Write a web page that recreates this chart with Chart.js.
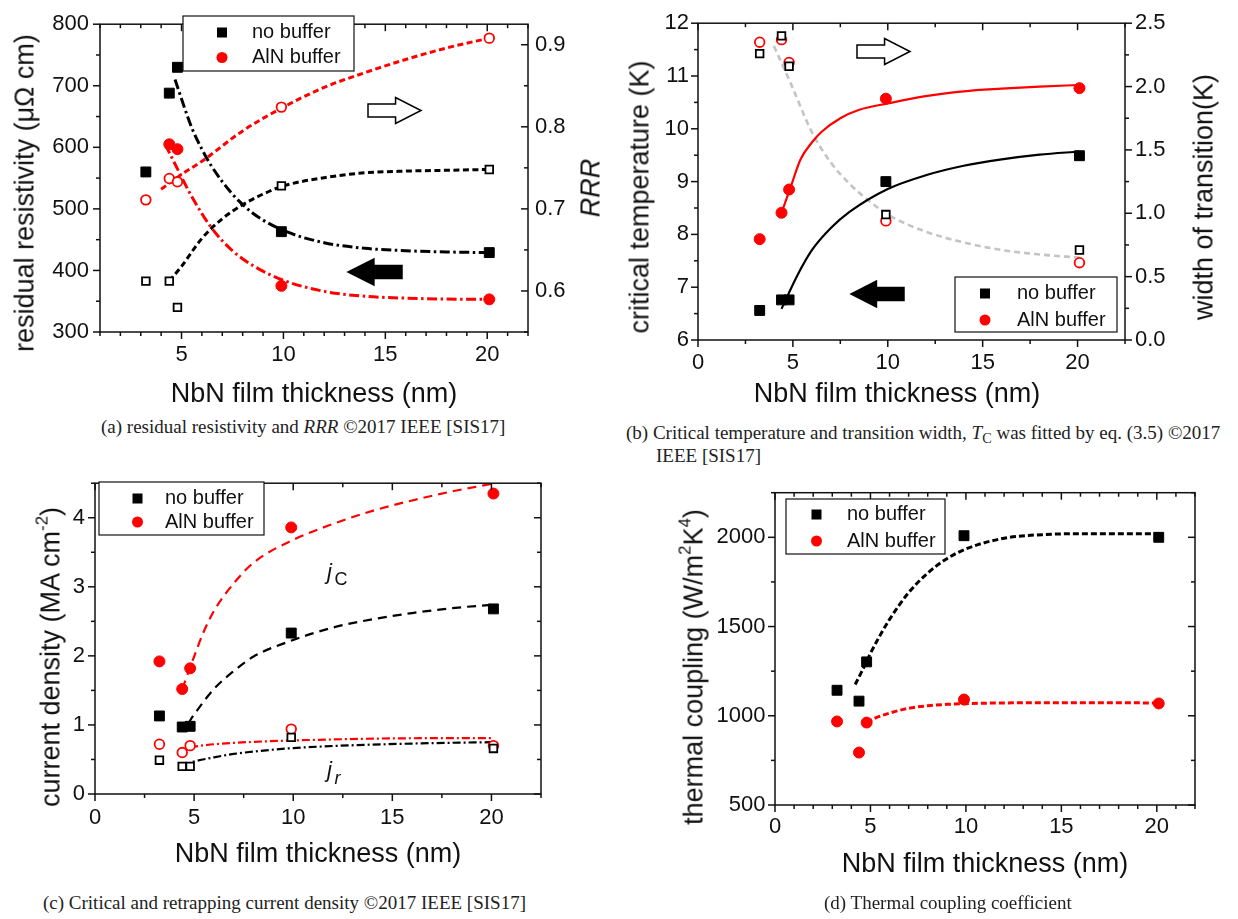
<!DOCTYPE html>
<html>
<head>
<meta charset="utf-8">
<script src="https://cdn.jsdelivr.net/npm/chart.js@4/dist/chart.umd.min.js"></script>
<style>
    body { margin: 0; background: #fff; }
    #page { position: relative; width: 1238px; height: 919px; overflow: hidden; background: #fff; }
    .panel { position: absolute; }
    .ttl {
        position: absolute; white-space: nowrap; color: #111;
        font: 27px 'Liberation Sans', Arial, sans-serif;
        transform: translate(-50%, -50%);
    }
    .ttl.v { transform: translate(-50%, -50%) rotate(-90deg); }
    .ttl sup { font-size: 62%; vertical-align: baseline; position: relative; top: -0.7em; }
    .cap {
        position: absolute; color: #222; white-space: nowrap;
        font: 19px 'Liberation Serif', 'Times New Roman', serif; line-height: 21px;
    }
    .cap sub { font-size: 75%; vertical-align: baseline; position: relative; top: 0.3em; }
</style>
</head>
<body>
<div id="page">
    <div class="panel" style="left:0;top:0"><canvas id="chart-a" width="610" height="380"></canvas></div>
    <div class="panel" style="left:600px;top:0"><canvas id="chart-b" width="638" height="380"></canvas></div>
    <div class="panel" style="left:0;top:460px"><canvas id="chart-c" width="600" height="380"></canvas></div>
    <div class="panel" style="left:640px;top:470px"><canvas id="chart-d" width="598" height="380"></canvas></div>

    <!-- axis titles -->
    <div class="ttl v" style="left:25px;top:193px">residual resistivity (μΩ cm)</div>
    <div class="ttl v" style="left:591px;top:188px"><i>RRR</i></div>
    <div class="ttl" style="left:314px;top:393px">NbN film thickness (nm)</div>

    <div class="ttl v" style="left:640px;top:197px">critical temperature (K)</div>
    <div class="ttl v" style="left:1204px;top:197px">width of transition(K)</div>
    <div class="ttl" style="left:897px;top:393px">NbN film thickness (nm)</div>

    <div class="ttl v" style="left:51px;top:657px">current density (MA cm<sup>-2</sup>)</div>
    <div class="ttl" style="left:318px;top:853px">NbN film thickness (nm)</div>

    <div class="ttl v" style="left:694px;top:667px">thermal coupling (W/m<sup>2</sup>K<sup>4</sup>)</div>
    <div class="ttl" style="left:985px;top:863px">NbN film thickness (nm)</div>

    <!-- sub-figure captions -->
    <div class="cap" style="left:101px;top:416px">(a) residual resistivity and <i>RRR</i> ©2017 IEEE [SIS17]</div>
    <div class="cap" style="left:626px;top:422px;padding-left:30px;text-indent:-30px">(b) Critical temperature and transition width, <i>T</i><sub>C</sub> was fitted by eq. (3.5) ©2017<br>IEEE [SIS17]</div>
    <div class="cap" style="left:43px;top:892px">(c) Critical and retrapping current density ©2017 IEEE [SIS17]</div>
    <div class="cap" style="left:824px;top:892px">(d) Thermal coupling coefficient</div>
</div>

<script>
// film thickness of every sample (nm)
const thickness = [3.25, 4.4, 4.8, 9.9, 20.1];

// tick labels
const thicknessTicks = [0, 5, 10, 15, 20];
const rhoTicks = [300, 400, 500, 600, 700, 800];
const rrrTicks = [0.6, 0.7, 0.8, 0.9];
const tcTicks = [6, 7, 8, 9, 10, 11, 12];
const widthTicks = [0, 0.5, 1, 1.5, 2, 2.5];
const jTicks = [0, 1, 2, 3, 4];
const gTicks = [500, 1000, 1500, 2000];

// (a) residual resistivity (µΩ cm) and residual resistance ratio
const rhoNoBuffer = [560, 688, 730, 463, 429];
const rhoAlN = [null, 605, 597, 375, 353];
const rrrNoBuffer = [0.612, 0.612, 0.580, 0.728, 0.748];
const rrrAlN = [0.711, 0.737, 0.733, 0.824, 0.908];
const rhoFitNoX = [4.68, 5.5, 6, 6.5, 7.5, 8.5, 10, 12, 14, 16, 18, 20.1];
const rhoFitNoY = [710, 632, 597, 568, 524, 493, 465, 445, 436, 432, 430, 429];
const rhoFitAlnX = [4.2, 4.8, 5.5, 6.5, 7.5, 8.5, 10, 12, 14, 16, 18, 20.1];
const rhoFitAlnY = [605, 565, 520, 468, 432, 408, 384, 366, 358, 355, 353.5, 353];
const rrrFitNoX = [4.4, 5, 6, 7, 8, 9, 10, 12, 14, 16, 18, 20.1];
const rrrFitNoY = [0.612, 0.630, 0.664, 0.688, 0.705, 0.718, 0.728, 0.738, 0.744, 0.746, 0.747, 0.748];
const rrrFitAlnX = [4, 5, 6, 8, 10, 12, 14, 16, 18, 20.1];
const rrrFitAlnY = [0.724, 0.742, 0.758, 0.795, 0.824, 0.848, 0.866, 0.882, 0.896, 0.908];

// (b) critical temperature (K) and transition width (K)
const tcNoBuffer = [6.56, 6.76, 6.76, 9.0, 9.49];
const tcAlN = [7.91, 8.41, 8.85, 10.57, 10.77];
const dtNoBuffer = [2.26, 2.40, 2.16, 0.99, 0.71];
const dtAlN = [2.35, 2.37, 2.19, 0.94, 0.61];
const tcFitNoX = [4.4, 4.8, 5.2, 6, 7, 8, 10, 12, 14, 16, 18, 20.1];
const tcFitNoY = [6.59, 6.9, 7.2, 7.7, 8.12, 8.43, 8.86, 9.12, 9.3, 9.42, 9.51, 9.57];
const tcFitAlnX = [4.4, 4.85, 5.4, 6, 6.5, 7.5, 8.5, 10, 12, 14, 16, 18, 20.1];
const tcFitAlnY = [8.41, 8.86, 9.42, 9.74, 9.94, 10.2, 10.36, 10.48, 10.62, 10.71, 10.76, 10.8, 10.83];
const dtFitX = [4, 4.9, 6, 7, 8, 9, 10, 12, 14, 16, 18, 20.1];
const dtFitY = [2.32, 2.02, 1.64, 1.40, 1.23, 1.10, 0.99, 0.855, 0.77, 0.71, 0.675, 0.65];

// (c) critical (jc) and retrapping (jr) current density (MA/cm²)
const jcNoBuffer = [1.13, 0.97, 0.98, 2.33, 2.68];
const jcAlN = [1.92, 1.52, 1.82, 3.86, 4.35];
const jrNoBuffer = [0.49, 0.40, 0.40, 0.82, 0.66];
const jrAlN = [0.72, 0.60, 0.70, 0.94, 0.70];
const jcFitNoX = [4.7, 5, 6, 7, 8, 10, 12, 14, 16, 18, 20];
const jcFitNoY = [1.02, 1.15, 1.52, 1.78, 1.99, 2.23, 2.41, 2.53, 2.62, 2.69, 2.74];
const jcFitAlnX = [4.4, 5, 5.5, 6, 7, 8, 10, 12, 14, 16, 18, 20];
const jcFitAlnY = [1.52, 1.99, 2.36, 2.65, 3.05, 3.35, 3.68, 3.91, 4.1, 4.25, 4.38, 4.49];
const jrFitNoX = [4.4, 5, 6, 7, 8, 10, 12, 14, 16, 18, 20];
const jrFitNoY = [0.42, 0.47, 0.53, 0.58, 0.615, 0.665, 0.695, 0.715, 0.73, 0.742, 0.75];
const jrFitAlnX = [4.8, 6, 8, 10, 12, 15, 20];
const jrFitAlnY = [0.68, 0.72, 0.755, 0.775, 0.79, 0.805, 0.81];

// (d) thermal coupling coefficient (W/m²K⁴)
const gNoBuffer = [1143, 1082, 1302, 2009, 2000];
const gAlN = [968, 794, 962, 1091, 1069];
const gFitNoX = [4.2, 4.6, 5, 5.5, 6, 7, 8, 9, 10, 12, 14, 16, 18, 20.1];
const gFitNoY = [1175, 1260, 1350, 1450, 1540, 1690, 1800, 1880, 1935, 1995, 2015, 2020, 2020, 2020];
const gFitAlnX = [4.8, 5.2, 6, 7, 8, 9, 10, 12, 16, 20.1];
const gFitAlnY = [962, 985, 1015, 1042, 1056, 1064, 1068, 1072, 1073, 1072];

const INK = '#111';
const RED = '#ff0000';
const SANS = "'Liberation Sans', Arial, sans-serif";

Chart.defaults.font.family = SANS;
Chart.defaults.color = INK;

function pts(xs, ys) {
    return xs.map((x, i) => ({ x: x, y: ys[i] })).filter(p => p.y !== null);
}

// measured points: filled / open squares and circles
function marks(ys, kind, axis) {
    const red = kind.indexOf('circle') >= 0;
    const open = kind.indexOf('open') === 0;
    return {
        data: pts(thickness, ys),
        yAxisID: axis || 'y',
        showLine: false,
        order: 0,
        pointStyle: red ? 'circle' : 'rect',
        pointRadius: red ? (open ? 4.8 : 5.5) : (open ? 5.4 : 7),
        pointHoverRadius: red ? 5.5 : 7,
        pointBackgroundColor: open ? '#fff' : (red ? RED : '#000'),
        pointBorderColor: red ? RED : '#000',
        pointBorderWidth: open ? 1.8 : 1
    };
}

// fitted curves
function fit(xs, ys, color, dash, width, axis) {
    return {
        data: pts(xs, ys),
        yAxisID: axis || 'y',
        showLine: true,
        order: 1,
        pointRadius: 0,
        pointHoverRadius: 0,
        borderColor: color,
        borderWidth: width,
        borderDash: dash,
        cubicInterpolationMode: 'monotone',
        fill: false
    };
}

function axis(min, max, values, digits, pad, fitSize, vertical, position) {
    return {
        type: 'linear',
        position: position,
        min: min,
        max: max,
        grid: { display: false, drawTicks: false },
        border: { display: false },
        afterFit: s => { if (vertical) s.width = fitSize; else s.height = fitSize; },
        afterBuildTicks: s => { s.ticks = values.map(v => ({ value: v })); },
        ticks: {
            autoSkip: false,
            maxRotation: 0,
            padding: pad,
            color: INK,
            font: { size: 22 },
            callback: v => Number(v).toFixed(digits)
        }
    };
}

function eachTick(scale, minor, major, draw) {
    const first = Math.ceil((scale.min - 1e-9) / minor);
    const last = Math.floor((scale.max + 1e-9) / minor);
    for (let i = first; i <= last; i++) {
        const v = i * minor;
        const big = Math.abs(v / major - Math.round(v / major)) < 1e-6;
        draw(scale.getPixelForValue(v), big ? 7 : 4);
    }
}

function line(ctx, x1, y1, x2, y2) {
    ctx.beginPath();
    ctx.moveTo(x1, y1);
    ctx.lineTo(x2, y2);
    ctx.stroke();
}

function blockArrow(ctx, tail, tip, cy, filled) {
    const d = Math.sign(tip - tail);
    const neck = tip - d * Math.abs(tip - tail) * 0.48;
    const sh = 6.5, hh = 13;
    ctx.beginPath();
    ctx.moveTo(tail, cy - sh);
    ctx.lineTo(neck, cy - sh);
    ctx.lineTo(neck, cy - hh);
    ctx.lineTo(tip, cy);
    ctx.lineTo(neck, cy + hh);
    ctx.lineTo(neck, cy + sh);
    ctx.lineTo(tail, cy + sh);
    ctx.closePath();
    ctx.fillStyle = filled ? '#000' : '#fff';
    ctx.fill();
    ctx.lineWidth = 1.5;
    ctx.strokeStyle = '#000';
    ctx.stroke();
}

// frame with Origin-like major/minor ticks, boxed legend, arrows and labels
const decor = {
    id: 'decor',
    afterDatasetsDraw(chart, args, o) {
        const ctx = chart.ctx, a = chart.chartArea;
        const sx = chart.scales.x, sy = chart.scales.y;
        ctx.save();
        ctx.strokeStyle = INK;
        ctx.lineWidth = 1.5;
        ctx.strokeRect(a.left, a.top, a.right - a.left, a.bottom - a.top);
        eachTick(sx, o.x[0], o.x[1], (p, len) => {
            line(ctx, p, a.bottom, p, a.bottom + len);
            line(ctx, p, a.top, p, a.top + len);
        });
        eachTick(sy, o.y[0], o.y[1], (p, len) => line(ctx, a.left, p, a.left - len, p));
        const r = o.right;
        eachTick(chart.scales[r.scale], r.minor, r.major, (p, len) => {
            const s = r.dir === 'out' ? 1 : -1;
            line(ctx, a.right, p, a.right + s * len, p);
        });

        (o.arrows || []).forEach(w => blockArrow(ctx, w.tail, w.tip, w.y, w.filled));

        const L = o.legend;
        ctx.fillStyle = '#fff';
        ctx.fillRect(L.x, L.y, L.w, L.h);
        ctx.lineWidth = 1.2;
        ctx.strokeStyle = INK;
        ctx.strokeRect(L.x, L.y, L.w, L.h);
        ctx.fillStyle = '#000';
        ctx.fillRect(L.sx - 5, L.rows[0] - 5, 10, 10);
        ctx.fillStyle = RED;
        ctx.beginPath();
        ctx.arc(L.sx, L.rows[1], 5.5, 0, Math.PI * 2);
        ctx.fill();
        ctx.fillStyle = INK;
        ctx.font = '20px ' + SANS;
        ctx.textBaseline = 'middle';
        ctx.fillText('no buffer', L.tx, L.rows[0]);
        ctx.fillText('AlN buffer', L.tx, L.rows[1]);

        (o.labels || []).forEach(t => {
            ctx.textBaseline = 'alphabetic';
            ctx.font = 'italic 22px ' + SANS;
            ctx.fillText('j', t.x, t.y);
            ctx.font = (t.italicSub ? 'italic ' : '') + '18px ' + SANS;
            ctx.fillText(t.sub, t.x + 7.5, t.y + 6.5);
        });
        ctx.restore();
    }
};

function makeChart(id, datasets, scales, padding, decorOpts) {
    return new Chart(document.getElementById(id), {
        type: 'scatter',
        data: { datasets: datasets },
        options: {
            responsive: false,
            animation: false,
            devicePixelRatio: 1,
            layout: { padding: padding },
            scales: scales,
            plugins: {
                legend: { display: false },
                tooltip: { enabled: false },
                decor: decorOpts
            }
        },
        plugins: [decor]
    });
}

// (a) residual resistivity and RRR
makeChart('chart-a', [
    marks(rhoNoBuffer, 'square'),
    marks(rhoAlN, 'circle'),
    marks(rrrNoBuffer, 'open-square', 'y2'),
    marks(rrrAlN, 'open-circle', 'y2'),
    fit(rhoFitNoX, rhoFitNoY, '#000', [10, 3.5, 2.5, 3.5], 3),
    fit(rhoFitAlnX, rhoFitAlnY, RED, [10, 3.5, 2.5, 3.5], 3),
    fit(rrrFitNoX, rrrFitNoY, '#000', [6, 3.5], 3, 'y2'),
    fit(rrrFitAlnX, rrrFitAlnY, RED, [6, 3.5], 3, 'y2')
], {
    x: axis(1, 22, thicknessTicks.slice(1), 0, 10, 48, false, 'bottom'),
    y: axis(300, 800, rhoTicks, 0, 11, 100, true, 'left'),
    y2: axis(0.55, 0.925, rrrTicks, 1, 7, 82, true, 'right')
}, { top: 12, left: 0, right: 0, bottom: 0 }, {
    x: [1, 5], y: [50, 100],
    right: { scale: 'y2', minor: 0.05, major: 0.1, dir: 'in' },
    legend: { x: 183, y: 16, w: 171, h: 55, sx: 222, tx: 252, rows: [32.5, 57.5] },
    arrows: [
        { tail: 368, tip: 421, y: 110.5, filled: false },
        { tail: 402, tip: 348, y: 272, filled: true }
    ]
});

// (b) critical temperature and transition width
makeChart('chart-b', [
    marks(tcNoBuffer, 'square'),
    marks(tcAlN, 'circle'),
    marks(dtNoBuffer, 'open-square', 'y2'),
    marks(dtAlN, 'open-circle', 'y2'),
    fit(tcFitNoX, tcFitNoY, '#000', [], 2.2),
    fit(tcFitAlnX, tcFitAlnY, RED, [], 2.2),
    fit(dtFitX, dtFitY, '#c4c4c4', [6, 4], 2.6, 'y2')
], {
    x: axis(0, 22.5, thicknessTicks, 0, 10, 40, false, 'bottom'),
    y: axis(6, 12, tcTicks, 0, 9, 98, true, 'left'),
    y2: axis(0, 2.5, widthTicks, 1, 10, 113, true, 'right')
}, { top: 18, left: 0, right: 0, bottom: 0 }, {
    x: [2.5, 5], y: [0.5, 1],
    right: { scale: 'y2', minor: 0.25, major: 0.5, dir: 'out' },
    legend: { x: 355, y: 277, w: 162, h: 55, sx: 385, tx: 417, rows: [293.5, 320] },
    arrows: [
        { tail: 257, tip: 310, y: 51.5, filled: false },
        { tail: 304, tip: 251, y: 294, filled: true }
    ]
});

// (c) critical and retrapping current density
makeChart('chart-c', [
    marks(jcNoBuffer, 'square'),
    marks(jcAlN, 'circle'),
    marks(jrNoBuffer, 'open-square'),
    marks(jrAlN, 'open-circle'),
    fit(jcFitNoX, jcFitNoY, '#000', [9, 6], 2.2),
    fit(jcFitAlnX, jcFitAlnY, RED, [9, 6], 2.2),
    fit(jrFitNoX, jrFitNoY, '#000', [8, 3, 2, 3], 2.2),
    fit(jrFitAlnX, jrFitAlnY, RED, [8, 3, 2, 3], 2.2)
], {
    x: axis(0, 22.5, thicknessTicks, 0, 11, 46, false, 'bottom'),
    y: axis(0, 4.5, jTicks, 0, 10, 95, true, 'left')
}, { top: 18, left: 0, right: 59, bottom: 0 }, {
    x: [2.5, 5], y: [0.5, 1],
    right: { scale: 'y', minor: 0.5, major: 1, dir: 'in' },
    legend: { x: 99, y: 22, w: 165, h: 53, sx: 137.5, tx: 165, rows: [38.5, 62] },
    labels: [
        { x: 327, y: 118.5, sub: 'C', italicSub: false },
        { x: 327, y: 317, sub: 'r', italicSub: true }
    ]
});

// (d) thermal coupling coefficient
makeChart('chart-d', [
    marks(gNoBuffer, 'square'),
    marks(gAlN, 'circle'),
    fit(gFitNoX, gFitNoY, '#000', [6, 3], 3),
    fit(gFitAlnX, gFitAlnY, RED, [6, 3], 3)
], {
    x: axis(0, 22, thicknessTicks, 0, 9, 45, false, 'bottom'),
    y: axis(500, 2250, gTicks, 0, 9.5, 135, true, 'left')
}, { top: 18, left: 0, right: 43, bottom: 0 }, {
    x: [1, 5], y: [250, 500],
    right: { scale: 'y', minor: 250, major: 500, dir: 'in' },
    legend: { x: 146, y: 29, w: 159, h: 55, sx: 176.5, tx: 207, rows: [44.5, 71] }
});
</script>
</body>
</html>
